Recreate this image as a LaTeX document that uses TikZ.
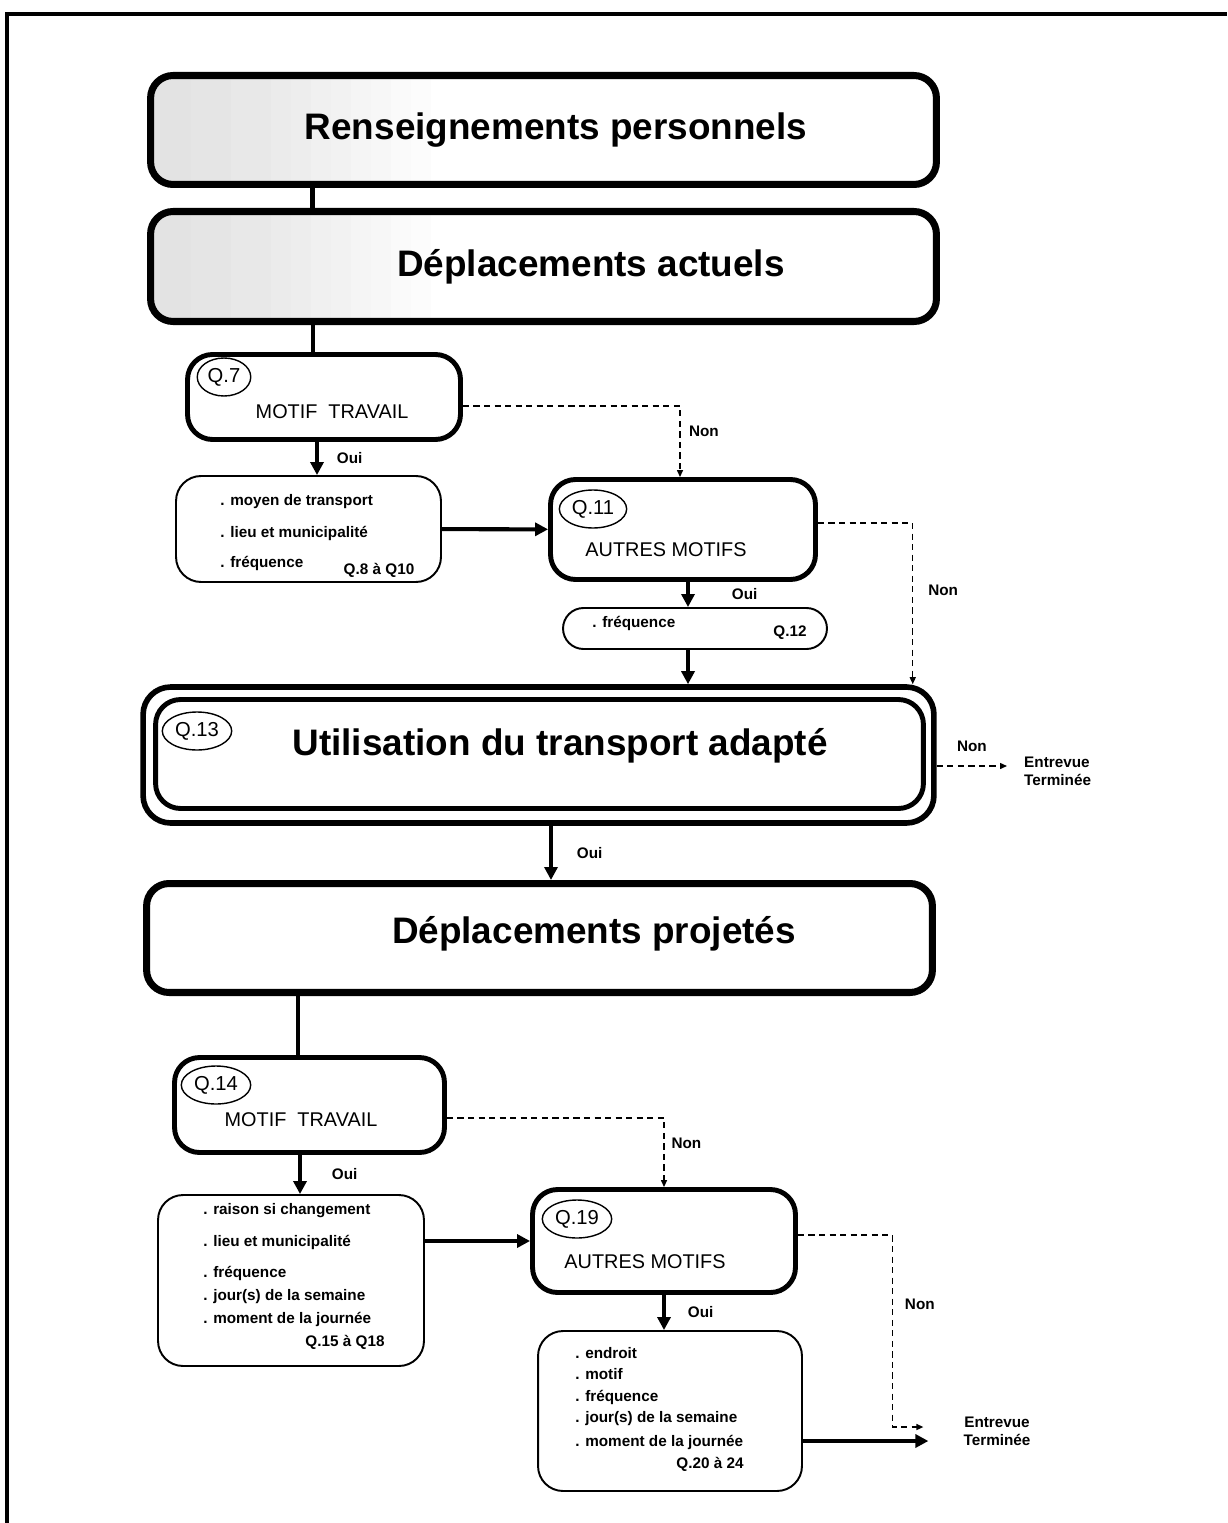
\documentclass[tikz,border=0pt]{standalone}
\usepackage{fontspec}
\setmainfont{Liberation Sans}
\usetikzlibrary{arrows.meta,shapes.geometric}

\tikzset{
  bigbox/.style={draw, line width=4pt, rounded corners=0.45cm, minimum width=15.72cm, minimum height=2.18cm, inner sep=0pt},
  qbox/.style={draw, line width=2.8pt, rounded corners=0.5cm, inner sep=0pt},
  infobox/.style={draw, line width=1.1pt, rounded corners=0.5cm, inner sep=0pt},
  qtag/.style={draw, ellipse, line width=0.8pt, inner xsep=1.5pt, inner ysep=0.5pt, minimum height=0.76cm, font=\fontsize{11.5}{13}\selectfont},
  title/.style={font=\fontsize{21}{25}\selectfont\bfseries},
  qtext/.style={font=\fontsize{11.3}{13}\selectfont},
  item/.style={anchor=west, inner sep=0pt, font=\fontsize{8.7}{10.4}\selectfont\bfseries},
  lbl/.style={font=\fontsize{8.7}{10.4}\selectfont\bfseries},
  link/.style={line width=2.8pt},
  arr/.style={line width=2.3pt, -{Triangle[length=0.26cm,width=0.26cm]}},
  dasharr/.style={line width=0.8pt, dash pattern=on 3.5pt off 2.5pt, -{Triangle[length=0.14cm,width=0.12cm]}},
  stipple/.style={path picture={
      \foreach \c [count=\i from 0] in {11,11,10,10,9,9,8,7,6,5,4,3,2,1}
        \fill[black!\c, sharp corners] ([xshift=\i*0.4cm]path picture bounding box.south west)
          rectangle ([xshift=\i*0.4cm+0.41cm]path picture bounding box.north west);}},
}

\begin{document}
\begin{tikzpicture}[x=0.02cm, y=-0.02cm]
  \useasboundingbox (0,0) rectangle (1227,1523);
  % frame
  \draw[line width=2.2pt] (7,1523) -- (7,14) -- (1227,14);

  % main blocks
  \node[bigbox, stipple, minimum height=2.18cm] (rp) at (543.5,130) {};
  \node[title] (t1) at (556,130) {Renseignements personnels};
  \node[bigbox, stipple, minimum height=2.2cm] (da) at (543.5,266.5) {};
  \node[title] (t2) at (591,267) {Déplacements actuels};

  % Q.7
  \node[qbox, minimum width=5.46cm, minimum height=1.7cm] (q7) at (324,397) {};
  \node[qtag] (tag7) at (224,377) {Q.7};
  \node[qtext] (m7) at (332,412) {MOTIF\ \ TRAVAIL};

  \node[infobox, minimum width=5.3cm, minimum height=2.12cm] (info7) at (308.5,529) {};
  \foreach \t/\y in {{. moyen de transport}/502, {. lieu et municipalité}/533, {. fréquence}/563}
    \node[item] (i7\y) at (220,\y) {\t};
  \node[lbl] (r7) at (379,570) {Q.8 à Q10};

  % Q.11
  \node[qbox, minimum width=5.3cm, minimum height=2cm] (q11) at (683,529.5) {};
  \node[qtag] (tag11) at (593,509) {Q.11};
  \node[qtext] (m11) at (666,550) {AUTRES MOTIFS};

  \node[infobox, rounded corners=0.41cm, minimum width=5.28cm, minimum height=0.82cm] (info11) at (695,628.5) {};
  \node[item] (i11) at (592,623) {. fréquence};
  \node[lbl] (r11) at (790,633) {Q.12};

  % Q.13
  \node[qbox, line width=3.2pt, rounded corners=0.55cm, minimum width=15.82cm, minimum height=2.72cm] (q13o) at (538.5,755) {};
  \node[qbox, minimum width=15.36cm, minimum height=2.18cm] (q13i) at (539.5,754) {};
  \node[qtag] (tag13) at (197,731) {Q.13};
  \node[title] (t13) at (560,746) {Utilisation du transport adapté};
  \node[lbl, align=left, anchor=west] (end1) at (1018,771) {Entrevue\\Terminée};
  \coordinate (e1in) at ([xshift=-0.22cm, yshift=0.1cm]end1.west);

  \node[bigbox, minimum height=2.18cm] (dp) at (539.5,938) {};
  \node[title] (t3) at (594,934) {Déplacements projetés};

  % Q.14
  \node[qbox, minimum width=5.4cm, minimum height=1.9cm] (q14) at (309.5,1105) {};
  \node[qtag] (tag14) at (216,1085) {Q.14};
  \node[qtext] (m14) at (301,1120) {MOTIF\ \ TRAVAIL};

  \node[infobox, minimum width=5.32cm, minimum height=3.42cm] (info14) at (291,1280.5) {};
  \foreach \t/\y in {{. raison si changement}/1211, {. lieu et municipalité}/1242, {. fréquence}/1273,
      {. jour(s) de la semaine}/1297, {. moment de la journée}/1319}
    \node[item] (i14\y) at (203,\y) {\t};
  \node[lbl] (r14) at (345,1342) {Q.15 à Q18};

  % Q.19
  \node[qbox, minimum width=5.26cm, minimum height=2.06cm] (q19) at (664,1241) {};
  \node[qtag] (tag19) at (577,1219) {Q.19};
  \node[qtext] (m19) at (645,1262) {AUTRES MOTIFS};

  \node[infobox, minimum width=5.28cm, minimum height=3.2cm] (info19) at (670,1411) {};
  \foreach \t/\y in {{. endroit}/1353, {. motif}/1374, {. fréquence}/1397,
      {. jour(s) de la semaine}/1419, {. moment de la journée}/1442}
    \node[item] (i19\y) at (575,\y) {\t};
  \node[lbl] (r19) at (710,1464) {Q.20 à 24};

  \node[lbl, align=center] (end2) at (997,1431) {Entrevue\\Terminée};
  \coordinate (e2dash) at ([xshift=-0.68cm, yshift=0.08cm]end2.west);
  \coordinate (e2in) at ([xshift=-0.58cm, yshift=-0.2cm]end2.west);

  % connectors
  \draw[link] ([xshift=-4.63cm]rp.south) -- ([xshift=-4.63cm]da.north);
  \draw[link] ([xshift=-0.22cm]q7.north) -- ([xshift=-0.22cm]q7.north |- da.south);
  \draw[arr] ([xshift=-0.14cm]q7.south) -- ([xshift=-0.14cm]q7.south |- info7.north)
    node[lbl, midway, right=0.24cm] (oui7) {Oui};
  \draw[arr] (info7) -- (q11);
  \draw[dasharr] ([yshift=-0.18cm]q7.east) -| node[lbl, pos=0.68, right=0.05cm] (non7) {Non} ([xshift=-0.06cm]q11.north);

  \draw[arr] ([xshift=0.1cm]q11.south) -- ([xshift=0.1cm]q11.south |- info11.north)
    node[lbl, midway, right=0.72cm] (oui11) {Oui};
  \draw[arr] ([xshift=-0.14cm]info11.south) -- ([xshift=-0.14cm]info11.south |- q13o.north);
  \draw[dasharr] ([yshift=0.13cm]q11.east) -| node[lbl, pos=0.71, right=0.18cm] (non11) {Non} ([xshift=-0.48cm]q13o.north east);

  \draw[dasharr] (q13o.east |- e1in) -- (e1in) node[lbl, midway, above=0.15cm] (non13) {Non};
  \draw[arr] ([xshift=0.25cm]q13o.south) -- ([xshift=0.25cm]q13o.south |- dp.north)
    node[lbl, midway, right=0.36cm] (oui13) {Oui};

  \draw[link] ([xshift=-0.23cm]q14.north) -- ([xshift=-0.23cm]q14.north |- dp.south);
  \draw[arr] ([xshift=-0.19cm]q14.south) -- ([xshift=-0.19cm]q14.south |- info14.north)
    node[lbl, midway, right=0.48cm] (oui14) {Oui};
  \draw[arr] (info14.east |- q19) -- (q19.west);
  \draw[dasharr] ([yshift=-0.26cm]q14.east) -| node[lbl, pos=0.68, right=0.02cm] (non14) {Non} (q19.north);

  \draw[arr] (q19.south) -- (q19.south |- info19.north)
    node[lbl, midway, right=0.32cm] (oui19) {Oui};
  \draw[dasharr] ([yshift=0.12cm]q19.east) -| node[lbl, pos=0.68, right=0.12cm] (non19) {Non} ([xshift=-0.62cm]e2dash) -- (e2dash);
  \draw[arr] (info19.east |- e2in) -- (e2in);
\end{tikzpicture}
\end{document}
